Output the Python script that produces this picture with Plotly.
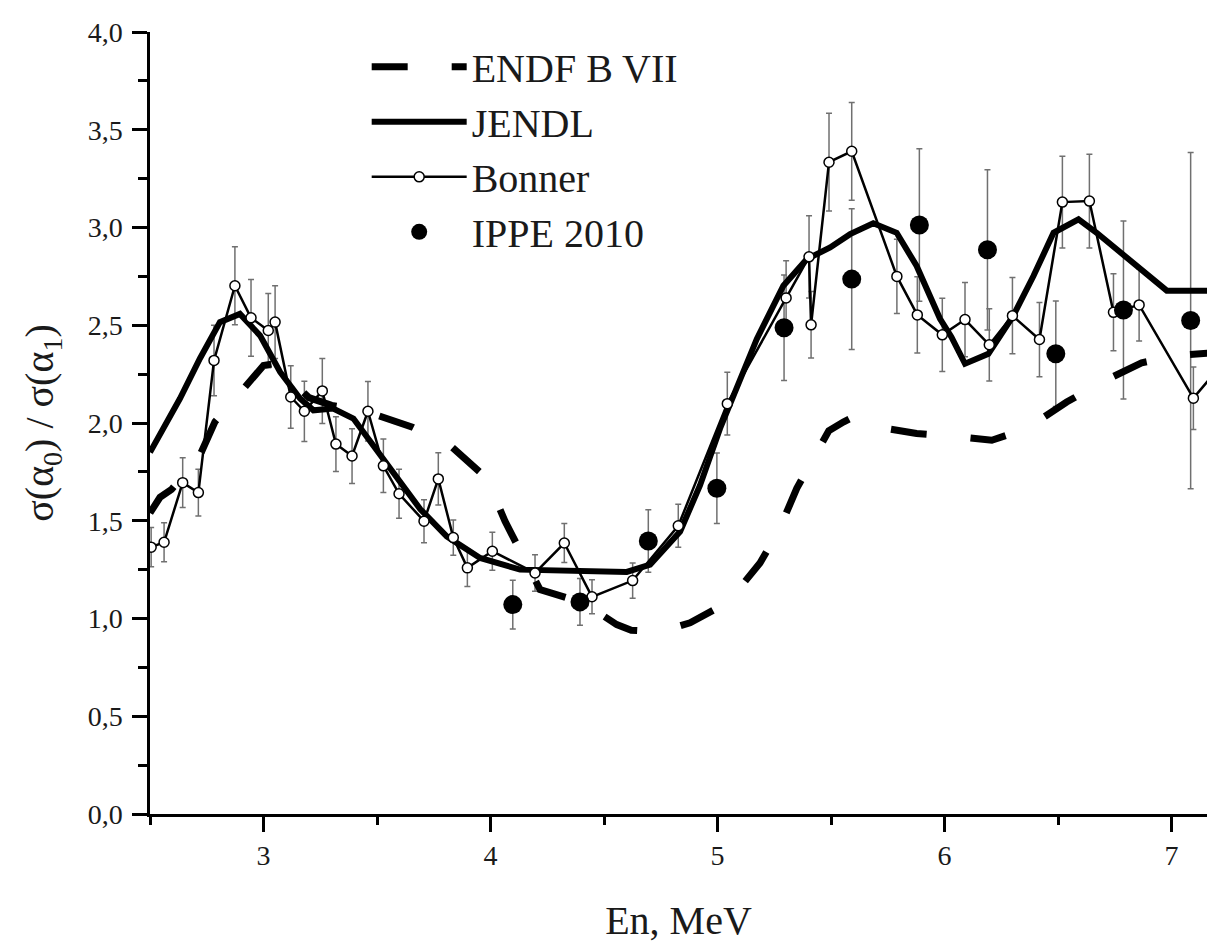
import plotly.graph_objects as go

# ---- data ----
endf_x = [2.5, 2.544, 2.595, 2.72, 2.786, 2.918, 3.0, 3.043, 3.1, 3.2, 3.3, 3.4, 3.5, 3.653,
          3.829, 3.983, 4.064, 4.137, 4.218, 4.409, 4.556, 4.62, 4.703, 4.8, 4.879, 5.026,
          5.1, 5.187, 5.268, 5.349, 5.422, 5.49, 5.554, 5.59, 5.7, 5.877, 6.068, 6.208,
          6.362, 6.538, 6.692, 6.868, 7.022, 7.2]
endf_y = [1.54, 1.62, 1.66, 1.835, 2.006, 2.192, 2.294, 2.303, 2.24, 2.13, 2.09, 2.07, 2.04, 1.98,
          1.878, 1.717, 1.497, 1.335, 1.148, 1.08, 0.969, 0.94, 0.935, 0.95, 0.978, 1.071,
          1.16, 1.284, 1.445, 1.666, 1.828, 1.96, 2.005, 2.026, 1.98, 1.946, 1.929, 1.912,
          1.972, 2.107, 2.209, 2.308, 2.345, 2.36]

jendl_x = [2.5, 2.632, 2.72, 2.808, 2.896, 2.985, 3.073, 3.161, 3.22, 3.307, 3.396, 3.484,
           3.571, 3.69, 3.807, 3.954, 4.13, 4.394, 4.6, 4.703, 4.761, 4.835, 4.923, 5.011,
           5.173, 5.29, 5.393, 5.496, 5.584, 5.686, 5.789, 5.877, 5.98, 6.03, 6.09, 6.193,
           6.303, 6.392, 6.48, 6.59, 6.67, 6.979, 7.2]
jendl_y = [1.85, 2.125, 2.33, 2.516, 2.558, 2.447, 2.261, 2.125, 2.065, 2.074, 2.023, 1.887,
           1.74, 1.56, 1.42, 1.31, 1.25, 1.242, 1.238, 1.275, 1.352, 1.445, 1.682, 1.972,
           2.43, 2.702, 2.838, 2.898, 2.966, 3.022, 2.973, 2.803, 2.533, 2.44, 2.303, 2.354,
           2.549, 2.753, 2.973, 3.042, 2.973, 2.677, 2.677]

bonner_x = [2.505, 2.562, 2.644, 2.713, 2.782, 2.874, 2.945, 3.021, 3.051, 3.12, 3.18, 3.259,
            3.319, 3.39, 3.46, 3.528, 3.597, 3.707, 3.77, 3.836, 3.898, 4.008, 4.196, 4.325,
            4.447, 4.626, 4.827, 5.043, 5.302, 5.403, 5.412, 5.491, 5.591, 5.79, 5.88, 5.99,
            6.09, 6.197, 6.299, 6.418, 6.519, 6.638, 6.744, 6.857, 7.096, 7.2]
bonner_y = [1.365, 1.39, 1.695, 1.644, 2.32, 2.702, 2.538, 2.473, 2.516, 2.133, 2.06, 2.164,
            1.892, 1.831, 2.06, 1.781, 1.638, 1.498, 1.714, 1.414, 1.259, 1.344, 1.233, 1.386,
            1.111, 1.194, 1.474, 2.099, 2.64, 2.85, 2.502, 3.334, 3.39, 2.75, 2.553, 2.451,
            2.529, 2.4, 2.549, 2.427, 3.13, 3.135, 2.566, 2.604, 2.127, 2.27]
bonner_err = [0.10, 0.10, 0.127, 0.12, 0.18, 0.2, 0.196, 0.19, 0.186, 0.16, 0.154, 0.166,
              0.14, 0.14, 0.152, 0.137, 0.125, 0.11, 0.134, 0.09, 0.095, 0.097, 0.093, 0.1,
              0.087, 0.09, 0.11, 0.16, 0.19, 0.21, 0.17, 0.25, 0.25, 0.19, 0.195, 0.187,
              0.19, 0.185, 0.195, 0.19, 0.235, 0.24, 0.197, 0.185, 0.16, 0.16]

ippe_x = [4.098, 4.394, 4.695, 4.997, 5.293, 5.591, 5.889, 6.189, 6.49, 6.788, 7.084]
ippe_y = [1.071, 1.085, 1.396, 1.666, 2.487, 2.736, 3.013, 2.886, 2.354, 2.578, 2.524]
ippe_err = [0.125, 0.12, 0.16, 0.18, 0.27, 0.36, 0.39, 0.41, 0.27, 0.455, 0.86]

x_range = [2.5, 7.156]
y_range = [0, 4]

FONT = "Liberation Serif"
TXT = "#1a1a1a"
ERR = "#707070"

fig = go.Figure()

# error bars (drawn underneath)
fig.add_trace(go.Scatter(x=bonner_x, y=bonner_y, mode="markers", showlegend=False,
                         hoverinfo="skip", marker=dict(size=1, opacity=0),
                         error_y=dict(type="data", array=bonner_err, visible=True,
                                      color=ERR, thickness=1.5, width=3)))
fig.add_trace(go.Scatter(x=ippe_x, y=ippe_y, mode="markers", showlegend=False,
                         hoverinfo="skip", marker=dict(size=1, opacity=0),
                         error_y=dict(type="data", array=ippe_err, visible=True,
                                      color=ERR, thickness=1.5, width=3)))

fig.add_trace(go.Scatter(x=endf_x, y=endf_y, mode="lines", name="ENDF B VII",
                         line=dict(color="black", width=7, dash="36px,44px")))
fig.add_trace(go.Scatter(x=jendl_x, y=jendl_y, mode="lines", name="JENDL",
                         line=dict(color="black", width=6)))
fig.add_trace(go.Scatter(x=bonner_x, y=bonner_y, mode="lines+markers", name="Bonner",
                         line=dict(color="black", width=2.5),
                         marker=dict(symbol="circle", size=10, color="white",
                                     line=dict(color="black", width=1.5))))
fig.add_trace(go.Scatter(x=ippe_x, y=ippe_y, mode="markers", name="IPPE 2010",
                         marker=dict(symbol="circle", size=19, color="black")))

fig.update_layout(
    width=1207, height=943,
    margin=dict(l=150, r=0, t=32, b=126),
    paper_bgcolor="white", plot_bgcolor="white",
    separators=", ",
    font=dict(family=FONT, color=TXT),
    showlegend=True,
    legend=dict(x=0.205, y=0.997, xanchor="left", yanchor="top",
                font=dict(family=FONT, size=40, color=TXT),
                itemwidth=95, bgcolor="rgba(0,0,0,0)", tracegroupgap=0,
                traceorder="normal"),
    xaxis=dict(range=x_range, showgrid=False, zeroline=False,
               showline=True, linecolor="black", linewidth=2.5,
               ticks="outside", ticklen=15, tickwidth=2.5, tickcolor="black",
               tick0=0, dtick=1, tickfont=dict(family=FONT, size=28, color=TXT),
               ticklabelstandoff=0,
               minor=dict(dtick=0.5, tick0=0, ticks="outside", ticklen=8,
                          tickwidth=2.5, tickcolor="black"),
               title=dict(text="En, MeV", font=dict(family=FONT, size=40, color=TXT),
                          standoff=44)),
    yaxis=dict(range=y_range, showgrid=False, zeroline=False,
               showline=True, linecolor="black", linewidth=2.5,
               ticks="outside", ticklen=15, tickwidth=2.5, tickcolor="black",
               tick0=0, dtick=0.5, tickformat=".1f",
               tickfont=dict(family=FONT, size=28, color=TXT),
               ticklabelstandoff=4,
               minor=dict(dtick=0.25, tick0=0, ticks="outside", ticklen=9,
                          tickwidth=2.5, tickcolor="black"),
               title=dict(text="σ(α<sub>0</sub>) / σ(α<sub>1</sub>)",
                          font=dict(family=FONT, size=40, color=TXT), standoff=22)),
)

fig.write_html("out.html", config={"displayModeBar": False},
               post_script="document.body.style.margin='0';document.body.style.overflow='hidden';")
